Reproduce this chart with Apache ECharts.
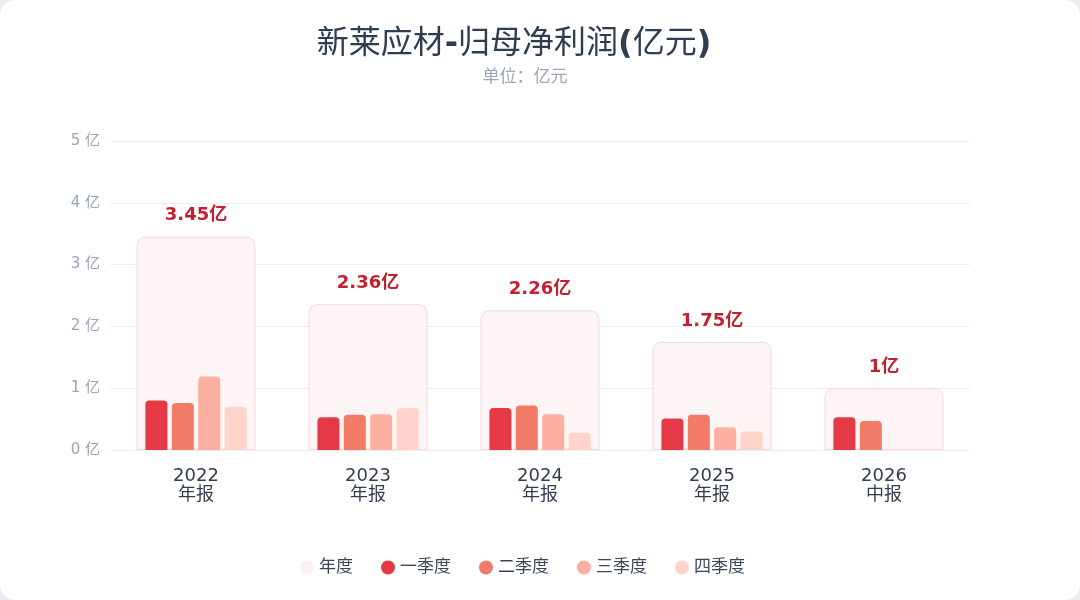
<!DOCTYPE html>
<html>
<head>
<meta charset="utf-8">
<title>新莱应材-归母净利润</title>
<script src="https://cdn.jsdelivr.net/npm/echarts@6/dist/echarts.min.js"></script>
<style>
  html, body { margin: 0; padding: 0; background: #eceef1; }
  #main { width: 1080px; height: 600px; background: #fff; border-radius: 16px; }
</style>
</head>
<body>
<div id="main"></div>
<script type="text/javascript">
var categories = ['2022\n年报', '2023\n年报', '2024\n年报', '2025\n年报', '2026\n中报'];
var yearly = [3.45, 2.36, 2.26, 1.75, 1.00];
var q1 = [0.80, 0.53, 0.68, 0.51, 0.53];
var q2 = [0.76, 0.57, 0.72, 0.57, 0.47];
var q3 = [1.19, 0.58, 0.58, 0.37, null];
var q4 = [0.70, 0.68, 0.28, 0.30, null];
var yTicks = [0, 1, 2, 3, 4, 5];

var myChart = echarts.init(document.getElementById('main'));
var font = 'DejaVu Sans, Noto Sans CJK SC, sans-serif';

function quarter(name, data, color) {
    return {
        name: name,
        type: 'bar',
        xAxisIndex: 1,
        data: data,
        barWidth: 22,
        barGap: '20%',
        z: 3,
        itemStyle: { color: color, borderRadius: [4, 4, 0, 0] }
    };
}

var option = {
    textStyle: { fontFamily: font },
    title: [{
        // 拉丁符号加粗，汉字常规
        text: '新莱应材{b|-}归母净利润{b|(}亿元{b|)}',
        left: 509,
        textAlign: 'center',
        top: 24,
        textStyle: {
            fontSize: 32, fontWeight: 'normal', color: '#2f3d51', fontFamily: font,
            rich: { b: { fontSize: 32, fontWeight: 'bold', color: '#2f3d51', fontFamily: font } }
        }
    }, {
        text: '单位：亿元',
        left: 520,
        textAlign: 'center',
        top: 62,
        textStyle: { fontSize: 17, fontWeight: 'normal', color: '#9aa5ba', fontFamily: 'Noto Sans CJK SC' }
    }],
    legend: {
        bottom: 19,
        left: 295,
        icon: 'circle',
        itemWidth: 14,
        itemHeight: 14,
        itemGap: 28,
        textStyle: { fontSize: 17, color: '#3b4658', fontFamily: font },
        data: [
            { name: '年度', itemStyle: { borderWidth: 0, color: '#fcf1f2' } },
            '一季度', '二季度', '三季度', '四季度'
        ]
    },
    grid: { left: 110, right: 110, top: 141, bottom: 150 },
    xAxis: [{
        type: 'category',
        data: categories,
        axisLine: { show: false },
        axisTick: { show: false },
        axisLabel: { fontSize: 18, color: '#333d4f', lineHeight: 19, margin: 17, fontFamily: font }
    }, {
        type: 'category',
        data: categories,
        show: false
    }],
    yAxis: {
        type: 'value',
        min: yTicks[0],
        max: yTicks[yTicks.length - 1],
        interval: 1,
        axisLabel: {
            fontSize: 15,
            color: '#9aa5ba',
            margin: 10,
            fontFamily: font,
            formatter: function (v) { return v + ' 亿'; }
        },
        splitLine: { lineStyle: { color: '#eceef2' } }
    },
    series: [{
        name: '年度',
        type: 'bar',
        xAxisIndex: 0,
        data: yearly,
        barWidth: 119,
        z: 1,
        itemStyle: {
            color: '#fcf4f5',
            borderColor: '#f6d6da',
            borderWidth: 1,
            borderRadius: [8, 8, 0, 0]
        },
        label: {
            show: true,
            position: 'top',
            distance: 12,
            fontSize: 18,
            fontWeight: 'bold',
            color: '#c41f2e',
            fontFamily: font,
            formatter: function (p) { return (+p.value.toFixed(2)) + '亿'; }
        }
    },
    quarter('一季度', q1, '#e63946'),
    quarter('二季度', q2, '#f27b68'),
    quarter('三季度', q3, '#fdafa2'),
    quarter('四季度', q4, '#ffd2ca')
    ]
};

myChart.setOption(option);
</script>
</body>
</html>
